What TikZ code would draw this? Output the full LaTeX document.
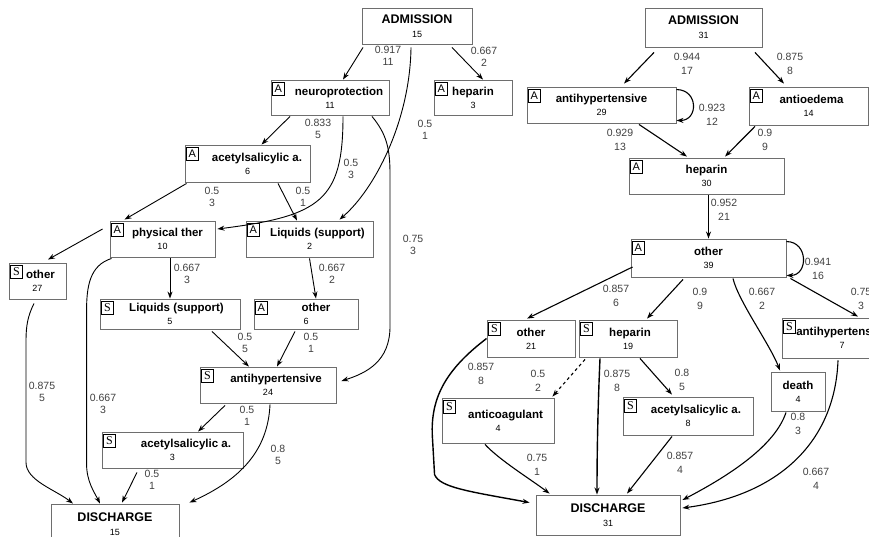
\documentclass[tikz,border=0pt]{standalone}
\usepackage{fontspec}
\setmainfont{Liberation Sans}
\newfontfamily\serifS{Liberation Serif}
\usetikzlibrary{arrows.meta}
\definecolor{boxgray}{HTML}{6E6E6E}
\definecolor{labgray}{HTML}{404040}
\newcommand{\nodecount}[1]{{\fontsize{9}{9}\selectfont\mdseries #1}}
\tikzset{
  box/.style 2 args={draw=boxgray, line width=0.9pt, rectangle, inner sep=0pt, align=center,
    minimum width=#1, minimum height=#2, font=\fontsize{11.5}{13}\selectfont\bfseries},
  term/.style 2 args={box={#1}{#2}, font=\fontsize{12.5}{14}\selectfont\bfseries},
  tagA/.style={draw, line width=1.6pt, anchor=north west, inner sep=0pt, minimum width=12pt,
    minimum height=13pt, font=\fontsize{11}{11}\selectfont},
  tagS/.style={tagA, font=\serifS\fontsize{12}{12}\selectfont},
  edge/.style={-{Stealth[length=7pt, width=5pt]}, line width=0.9pt},
  prob/.style={align=center, inner sep=0pt, text=labgray, font=\fontsize{10.5}{11.5}\selectfont}
}
\begin{document}
\begin{tikzpicture}[x=1pt, y=-1pt]
\useasboundingbox (0,0) rectangle (869,536);

% left graph
\node[term={110}{36}] (adml) at (417,26) {ADMISSION\\\nodecount{15}};
\node[box={118}{35}] (np) at (330,97.5) {\hspace*{18pt}neuroprotection\\\nodecount{11}};
\node[box={78}{35}] (hepl) at (473,97.5) {heparin\\\nodecount{3}};
\node[box={125}{37}] (asl) at (247.5,163.5) {\hspace*{19pt}acetylsalicylic a.\\\nodecount{6}};
\node[box={105}{36}] (pt) at (162.5,239) {\hspace*{10pt}physical ther\\\nodecount{10}};
\node[box={127}{36}] (liqa) at (309.5,239) {\hspace*{16pt}Liquids (support)\\\nodecount{2}};
\node[box={57}{36}] (othl) at (37.5,281) {\hspace*{6pt}other\\\nodecount{27}};
\node[box={140}{30}] (liqs) at (170,314) {\hspace*{13pt}Liquids (support)\\\nodecount{5}};
\node[box={104}{30}] (otha) at (306,314) {\hspace*{20pt}other\\\nodecount{6}};
\node[box={136}{36}] (ahs) at (268,385) {\hspace*{16pt}antihypertensive\\\nodecount{24}};
\node[box={141}{36}] (ass) at (172.5,450) {\hspace*{27pt}acetylsalicylic a.\\\nodecount{3}};
\node[term={128}{40}] (disl) at (115,524) {DISCHARGE\\\nodecount{15}};

\draw[edge] ([shift={(-54,3)}]adml.south) -- ([shift={(13,0)}]np.north);
\draw[edge] ([shift={(35,3)}]adml.south) -- ([shift={(10,0)}]hepl.north);
\draw[edge] ([shift={(-6,3)}]adml.south) .. controls +(-1,74) and +(35,-30) .. ([shift={(30,-1)}]liqa.north);
\draw[edge] ([shift={(-40,1)}]np.south) -- ([shift={(14,0)}]asl.north);
\draw[edge] ([shift={(13,1)}]np.south) .. controls +(0,84) and +(103,-13) .. ([shift={(2,-10)}]pt.east);
\draw[edge] ([shift={(42,1)}]np.south) .. controls +(15,18) and +(0,-25) .. ++(18,58) -- ++(0,152)
  .. controls +(0,35) and +(25,-8) .. ([shift={(5,-4)}]ahs.east);
\draw[edge] ([shift={(2,1)}]asl.south west) -- ([shift={(15,-1)}]pt.north west);
\draw[edge] ([shift={(30.5,1)}]asl.south) -- ([shift={(-12.5,0)}]liqa.north);
\draw[edge] ([shift={(-7,-10)}]pt.west) -- ([shift={(10.5,-3)}]othl.north);
\draw[edge] ([shift={(7.5,1)}]pt.south) -- (liqs.north);
\draw[edge] ([shift={(2,1)}]pt.south west) .. controls +(-22,7) and +(0,-25) .. ++(-25,53) -- ++(0,152)
  .. controls +(0,18) and +(-6,-12) .. ([shift={(-15,0)}]disl.north);
\draw[edge] ([shift={(-3.5,4)}]othl.south) .. controls +(-6,12) and +(0,-15) .. ++(-8,37) -- ++(0,122)
  .. controls +(0,18) and +(-18,-14) .. ([shift={(-42,0)}]disl.north);
\draw[edge] ([shift={(0,1)}]liqa.south) -- ([shift={(10,0)}]otha.north);
\draw[edge] ([shift={(42,2)}]liqs.south) -- ([shift={(-19,0)}]ahs.north);
\draw[edge] ([shift={(-11,2)}]otha.south) -- ([shift={(9,0)}]ahs.north);
\draw[edge] ([shift={(-43,2)}]ahs.south) -- ([shift={(25.5,0)}]ass.north);
\draw[edge] ([shift={(2,1)}]ahs.south) .. controls +(-2,46) and +(51,-23) .. ([shift={(10,-1)}]disl.north east);
\draw[edge] ([shift={(-35.5,4)}]ass.south) -- ([shift={(7,-1)}]disl.north);

\node[prob] (p1) at (388,56) {0.917\\11};
\node[prob] (p2) at (484,57) {0.667\\2};
\node[prob] (p3) at (425,130) {0.5\\1};
\node[prob] (p4) at (318,129) {0.833\\5};
\node[prob] (p5) at (351,169) {0.5\\3};
\node[prob] (p6) at (413,245) {0.75\\3};
\node[prob] (p7) at (212,197) {0.5\\3};
\node[prob] (p8) at (303,197) {0.5\\1};
\node[prob] (p10) at (187,274) {0.667\\3};
\node[prob] (p11) at (103,404) {0.667\\3};
\node[prob] (p12) at (42,392) {0.875\\5};
\node[prob] (p13) at (332,274) {0.667\\2};
\node[prob] (p14) at (245,343) {0.5\\5};
\node[prob] (p15) at (311,343) {0.5\\1};
\node[prob] (p16) at (247,416) {0.5\\1};
\node[prob] (p17) at (278,455) {0.8\\5};
\node[prob] (p18) at (152,480) {0.5\\1};

% right graph
\begin{scope}[prob/.append style={font=\fontsize{10.5}{14}\selectfont}, edge/.append style={line width=1.1pt}]
\node[term={117}{39}] (admr) at (703.5,27.5) {ADMISSION\\\nodecount{31}};
\node[box={149}{36}] (ahr) at (601.5,105) {antihypertensive\\\nodecount{29}};
\node[box={119}{38}] (aoe) at (808.5,106) {\hspace*{6pt}antioedema\\\nodecount{14}};
\node[box={155}{36}] (hepr) at (706.5,176) {heparin\\\nodecount{30}};
\node[box={155}{38}] (othr) at (708.5,258) {other\\\nodecount{39}};
\node[box={88}{37}] (othsr) at (531,338.5) {other\\\nodecount{21}};
\node[box={98}{37}] (hepsr) at (628,338.5) {\hspace*{4pt}heparin\\\nodecount{19}};
\node[box={120}{40}] (ahsr) at (842,338) {antihypertensive\\\nodecount{7}};
\node[box={54}{39}] (death) at (798,391.5) {death\\\nodecount{4}};
\node[box={112}{45}] (acg) at (498,420.5) {\hspace*{15pt}anticoagulant\\\nodecount{4}};
\node[box={130}{38}] (assr) at (688,416) {\hspace*{16pt}acetylsalicylic a.\\\nodecount{8}};
\node[term={144}{40}] (disr) at (608,515) {DISCHARGE\\\nodecount{31}};

\draw[edge] ([shift={(-49.5,5)}]admr.south) -- ([shift={(22.5,-3)}]ahr.north);
\draw[edge] ([shift={(51.5,5)}]admr.south) -- ([shift={(-24.5,-3)}]aoe.north);
\draw[edge] ([shift={(0,3)}]ahr.north east) .. controls +(22,0) and +(22,0) .. ([shift={(0,-3)}]ahr.south east);
\draw[edge] ([shift={(37.5,1)}]ahr.south) -- ([shift={(-19.5,-1)}]hepr.north);
\draw[edge] ([shift={(-53.5,1)}]aoe.south) -- ([shift={(18.5,-1)}]hepr.north);
\draw[edge] ([shift={(2,1)}]hepr.south) -- (othr.north);
\draw[edge] ([shift={(0,3)}]othr.north east) .. controls +(22,0) and +(22,0) .. ([shift={(0,-2)}]othr.south east);
\draw[edge] ([shift={(2,9)}]othr.west) -- ([shift={(-4,-1)}]othsr.north);
\draw[edge] ([shift={(-25.5,2)}]othr.south) -- ([shift={(19,-1)}]hepsr.north);
\draw[edge] ([shift={(24.5,1)}]othr.south) .. controls +(5,22) and +(-10,-26) .. ([shift={(-18,-1)}]death.north);
\draw[edge] ([shift={(4,1)}]othr.south east) -- ([shift={(16,-1)}]ahsr.north);
\draw[edge, line width=1.4pt] (othsr.west) .. controls +(-42,32) and +(-3,-40) .. ++(-54,101) -- ++(2,35)
  .. controls +(5,13) and +(-60,-11) .. ([shift={(-6,8)}]disr.north west);
\draw[edge, dashed] ([shift={(-43,2)}]hepsr.south) -- ([shift={(-2,-1)}]acg.north east);
\draw[edge, line width=1.4pt] ([shift={(-28,1)}]hepsr.south) .. controls +(-2,45) and +(0,-45) .. ([shift={(-11,0)}]disr.north);
\draw[edge] ([shift={(12,1)}]hepsr.south) -- ([shift={(-16,-2)}]assr.north);
\draw[edge] ([shift={(-13,1)}]acg.south) .. controls +(15,16) and +(-20,-15) .. ([shift={(14,-1)}]disr.north west);
\draw[edge] ([shift={(-16,1)}]assr.south) -- ([shift={(19,-1)}]disr.north);
\draw[edge] ([shift={(-12,1)}]death.south) .. controls +(-11,33) and +(48,-25) .. ([shift={(2,-15)}]disr.east);
\draw[edge] ([shift={(-4,2)}]ahsr.south) .. controls +(-3,80) and +(98,-13) .. ([shift={(2,-7)}]disr.east);

\node[prob] (q1) at (687,64) {0.944\\17};
\node[prob] (q2) at (790,64) {0.875\\8};
\node[prob] (q3) at (712,115) {0.923\\12};
\node[prob] (q4) at (620,140) {0.929\\13};
\node[prob] (q5) at (765,140) {0.9\\9};
\node[prob] (q6) at (724,210) {0.952\\21};
\node[prob] (q7) at (818,269) {0.941\\16};
\node[prob] (q8) at (616,296) {0.857\\6};
\node[prob] (q9) at (700,299) {0.9\\9};
\node[prob] (q10) at (762,299) {0.667\\2};
\node[prob] (q11) at (861,299) {0.75\\3};
\node[prob] (q12) at (481,374) {0.857\\8};
\node[prob] (q13) at (538,381) {0.5\\2};
\node[prob] (q14) at (617,381) {0.875\\8};
\node[prob] (q15) at (682,380) {0.8\\5};
\node[prob] (q16) at (537,465) {0.75\\1};
\node[prob] (q17) at (680,463) {0.857\\4};
\node[prob] (q18) at (798,424) {0.8\\3};
\node[prob] (q19) at (816,479) {0.667\\4};
\end{scope}

\foreach \n in {np,hepl,asl,pt,liqa,otha,ahr,aoe,hepr,othr}
  \node[tagA] (\n-tag) at ([shift={(1,2)}]\n.north west) {A};
\foreach \n in {othl,liqs,ahs,ass,othsr,hepsr,ahsr,acg,assr}
  \node[tagS] (\n-tag) at ([shift={(1,2)}]\n.north west) {S};
\end{tikzpicture}
\end{document}
